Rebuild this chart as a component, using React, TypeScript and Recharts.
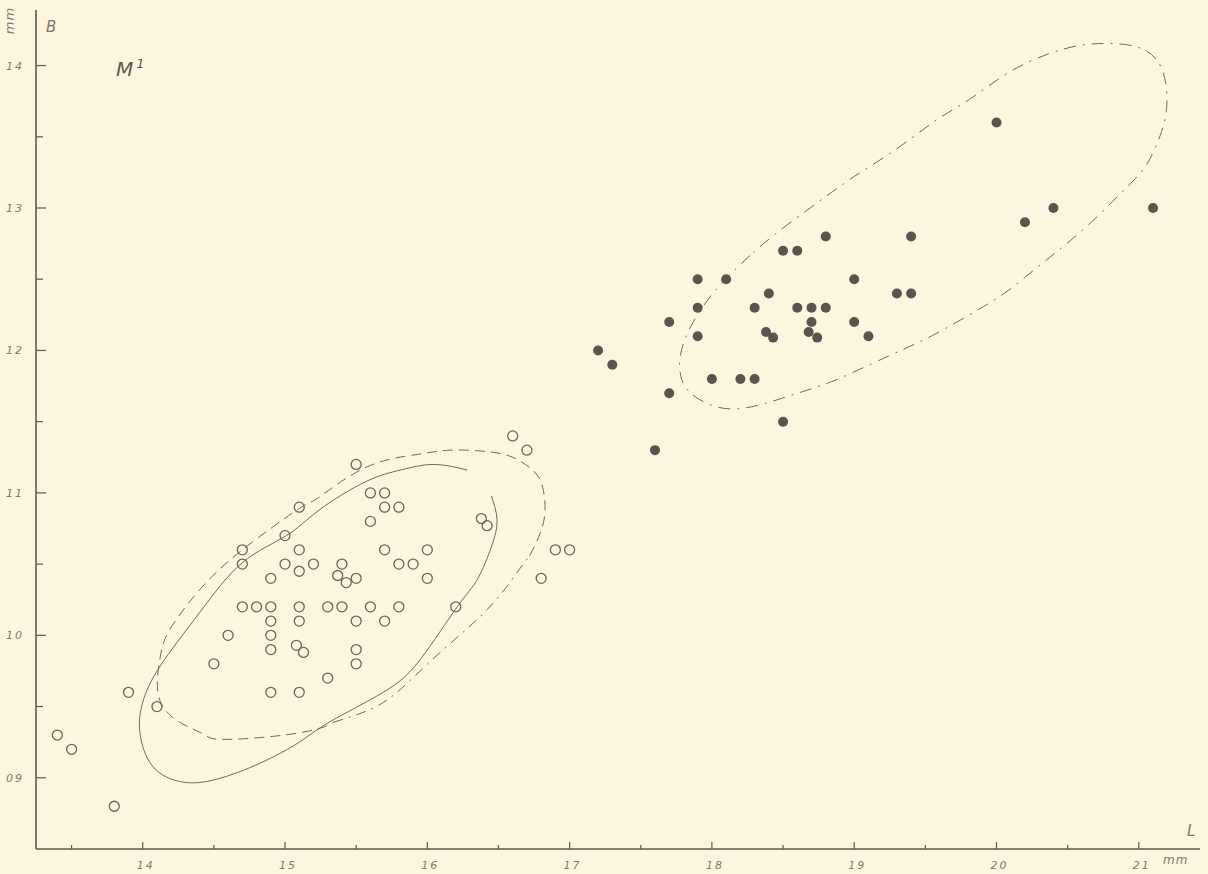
import { ComposedChart, Scatter, Line, XAxis, YAxis } from 'recharts'

// M1 — length (L) vs breadth (B), mm
const openPoints: [number, number][] = [
  [13.4, 9.3], [13.5, 9.2], [13.8, 8.8], [13.9, 9.6], [14.1, 9.5], [14.5, 9.8],
  [14.6, 10.0], [14.7, 10.6], [14.7, 10.5], [14.7, 10.2], [14.8, 10.2],
  [14.9, 10.4], [14.9, 10.2], [14.9, 10.1], [14.9, 10.0], [14.9, 9.9], [14.9, 9.6],
  [15.0, 10.7], [15.0, 10.5], [15.1, 10.9], [15.1, 10.6], [15.1, 10.45],
  [15.1, 10.2], [15.1, 10.1], [15.08, 9.93], [15.13, 9.88], [15.1, 9.6],
  [15.2, 10.5], [15.3, 10.2], [15.3, 9.7], [15.4, 10.5], [15.37, 10.42],
  [15.43, 10.37], [15.4, 10.2], [15.5, 11.2], [15.5, 10.4], [15.5, 10.1],
  [15.5, 9.9], [15.5, 9.8], [15.6, 11.0], [15.6, 10.8], [15.6, 10.2],
  [15.7, 11.0], [15.7, 10.9], [15.7, 10.6], [15.7, 10.1], [15.8, 10.9],
  [15.8, 10.5], [15.8, 10.2], [15.9, 10.5], [16.0, 10.6], [16.0, 10.4],
  [16.2, 10.2], [16.38, 10.82], [16.42, 10.77], [16.6, 11.4], [16.7, 11.3],
  [16.8, 10.4], [16.9, 10.6], [17.0, 10.6],
]

const filledPoints: [number, number][] = [
  [17.2, 12.0], [17.3, 11.9], [17.6, 11.3], [17.7, 12.2], [17.7, 11.7],
  [17.9, 12.5], [17.9, 12.3], [17.9, 12.1], [18.0, 11.8], [18.1, 12.5],
  [18.2, 11.8], [18.3, 12.3], [18.3, 11.8], [18.38, 12.13], [18.4, 12.4],
  [18.43, 12.09], [18.5, 12.7], [18.5, 11.5], [18.6, 12.7], [18.6, 12.3],
  [18.68, 12.13], [18.7, 12.3], [18.7, 12.2], [18.74, 12.09], [18.8, 12.8],
  [18.8, 12.3], [19.0, 12.5], [19.0, 12.2], [19.1, 12.1], [19.3, 12.4],
  [19.4, 12.4], [19.4, 12.8], [20.0, 13.6], [20.2, 12.9], [20.4, 13.0], [21.1, 13.0],
]

// outlines
const solidOutline: [number, number][] = [
  [16.28, 11.16], [16.04, 11.2], [15.81, 11.16], [15.57, 11.08], [15.24, 10.88],
  [15.01, 10.7], [14.7, 10.51], [14.4, 10.16], [14.12, 9.78], [14.0, 9.53],
  [13.98, 9.32], [14.07, 9.08], [14.28, 8.97], [14.52, 8.99], [14.82, 9.1],
  [15.1, 9.25], [15.31, 9.39], [15.69, 9.6], [15.95, 9.83], [16.21, 10.2],
  [16.35, 10.39], [16.45, 10.62], [16.49, 10.81], [16.45, 10.98],
]

const dashedOutline: [number, number][] = [
  [16.72, 10.56], [16.82, 10.81], [16.81, 11.04], [16.74, 11.16], [16.6, 11.25],
  [16.42, 11.29], [16.16, 11.3], [15.93, 11.27], [15.57, 11.18], [15.24, 10.97],
  [15.1, 10.89], [14.7, 10.6], [14.4, 10.32], [14.19, 10.04], [14.12, 9.83],
  [14.14, 9.5], [14.4, 9.32], [14.54, 9.27], [14.91, 9.29], [15.22, 9.34], [15.34, 9.39],
]

const dashDotOutline: [number, number][] = [
  [15.34, 9.39], [15.6, 9.48], [15.81, 9.62], [16.09, 9.88], [16.42, 10.18],
  [16.63, 10.44], [16.72, 10.56],
]

const darkOutline: [number, number][] = [
  [18.43, 12.81], [18.27, 12.67], [18.1, 12.51], [17.96, 12.35], [17.84, 12.16],
  [17.77, 11.98], [17.77, 11.81], [17.84, 11.69], [18.01, 11.6], [18.17, 11.58],
  [18.36, 11.62], [18.6, 11.7], [18.83, 11.77], [19.13, 11.91], [19.37, 12.02],
  [19.53, 12.09], [19.9, 12.3], [20.09, 12.42], [20.23, 12.54], [20.37, 12.65],
  [20.52, 12.77], [20.68, 12.91], [20.82, 13.05], [20.94, 13.17], [21.06, 13.29],
  [21.16, 13.52], [21.2, 13.68], [21.2, 13.86], [21.15, 14.04], [21.01, 14.14],
  [20.8, 14.16], [20.59, 14.15], [20.37, 14.09], [20.09, 13.97], [19.79, 13.74],
  [19.6, 13.64], [19.46, 13.53], [19.25, 13.38], [19.06, 13.26], [18.95, 13.19],
  [18.69, 13.0],
]

const xTicks = [13.5, 14, 14.5, 15, 15.5, 16, 16.5, 17, 17.5, 18, 18.5, 19, 19.5, 20, 20.5, 21]
const yTicks = [9, 9.5, 10, 10.5, 11, 11.5, 12, 12.5, 13, 13.5, 14]

const toXY = (arr: [number, number][]) => arr.map(([x, y]) => ({ x, y }))

const INK = '#5e594e'
const LABEL = '#807a6d'
const labelFont = '"DejaVu Sans", sans-serif'

const XTick = (props: any) => {
  const { x, y, payload } = props
  const v = payload.value as number
  const major = Number.isInteger(v)
  return (
    <g>
      <line x1={x} x2={x} y1={y} y2={y - (major ? 7 : 4)} stroke={INK} strokeWidth={1.2} />
      {major && (
        <text x={x + 3} y={y + 20} textAnchor="middle" fontSize={11} fontStyle="italic"
          fontFamily={labelFont} fill={LABEL} letterSpacing={2}>
          {v}
        </text>
      )}
    </g>
  )
}

const YTick = (props: any) => {
  const { x, y, payload } = props
  const v = payload.value as number
  const major = Number.isInteger(v)
  return (
    <g>
      <line x1={x} x2={x + (major ? 10 : 7)} y1={y} y2={y} stroke={INK} strokeWidth={1.2} />
      {major && (
        <text x={x - 12} y={y + 4} textAnchor="end" fontSize={11} fontStyle="italic"
          fontFamily={labelFont} fill={LABEL} letterSpacing={2}>
          {v === 9 ? '09' : v}
        </text>
      )}
    </g>
  )
}

const OpenDot = (props: any) => (
  <circle cx={props.cx} cy={props.cy} r={5} fill="none" stroke="#6a655a" strokeWidth={1.3} />
)

const FilledDot = (props: any) => (
  <circle cx={props.cx} cy={props.cy} r={5} fill="#58554d" />
)

export default function App() {
  return (
    <div style={{ position: 'absolute', left: 0, top: 0, width: 1208, height: 874, background: '#fdf6df', overflow: 'hidden' }}>
      <ComposedChart width={1208} height={874} margin={{ top: 10, right: 8, bottom: 0, left: 6 }}>
        <XAxis
          type="number"
          dataKey="x"
          domain={[13.25, 21.43]}
          ticks={xTicks}
          tick={<XTick />}
          tickLine={false}
          tickSize={0}
          tickMargin={0}
          height={25}
          axisLine={{ stroke: INK, strokeWidth: 1.6 }}
          interval={0}
        />
        <YAxis
          type="number"
          dataKey="y"
          domain={[8.5, 14.39]}
          ticks={yTicks}
          tick={<YTick />}
          tickLine={false}
          tickSize={0}
          tickMargin={0}
          width={30}
          axisLine={{ stroke: INK, strokeWidth: 1.6 }}
          interval={0}
        />
        <Line data={toXY(solidOutline)} dataKey="y" type="natural" dot={false}
          stroke="#6f6a5f" strokeWidth={1} isAnimationActive={false} />
        <Line data={toXY(dashedOutline)} dataKey="y" type="natural" dot={false}
          stroke="#6f6a5f" strokeWidth={1} strokeDasharray="10 6" isAnimationActive={false} />
        <Line data={toXY(dashDotOutline)} dataKey="y" type="natural" dot={false}
          stroke="#6f6a5f" strokeWidth={1} strokeDasharray="10 6 2 6" isAnimationActive={false} />
        <Line data={toXY(darkOutline)} dataKey="y" type="basisClosed" dot={false}
          stroke="#6f6a5f" strokeWidth={1} strokeDasharray="12 7 2 7" isAnimationActive={false} />
        <Scatter data={toXY(openPoints)} shape={<OpenDot />} isAnimationActive={false} />
        <Scatter data={toXY(filledPoints)} shape={<FilledDot />} isAnimationActive={false} />
      </ComposedChart>

      <div style={{ position: 'absolute', left: 2, top: 4, width: 16, height: 32, display: 'flex',
        alignItems: 'center', justifyContent: 'center' }}>
        <span style={{ transform: 'rotate(-90deg)', fontFamily: labelFont, fontStyle: 'italic',
          fontSize: 13, color: LABEL, letterSpacing: 1, whiteSpace: 'nowrap' }}>mm</span>
      </div>
      <div style={{ position: 'absolute', left: 46, top: 18, fontFamily: labelFont, fontStyle: 'italic',
        fontSize: 15, color: '#7a7568' }}>B</div>
      <div style={{ position: 'absolute', left: 116, top: 56, fontFamily: labelFont, fontStyle: 'italic',
        fontSize: 20, color: '#5d584d' }}>M<sup style={{ fontSize: 13, marginLeft: 3 }}>1</sup></div>
      <div style={{ position: 'absolute', left: 1187, top: 822, fontFamily: labelFont, fontStyle: 'italic',
        fontSize: 15, color: '#7a7568' }}>L</div>
      <div style={{ position: 'absolute', left: 1163, top: 853, fontFamily: labelFont, fontStyle: 'italic',
        fontSize: 12, color: LABEL, letterSpacing: 1 }}>mm</div>
    </div>
  )
}
